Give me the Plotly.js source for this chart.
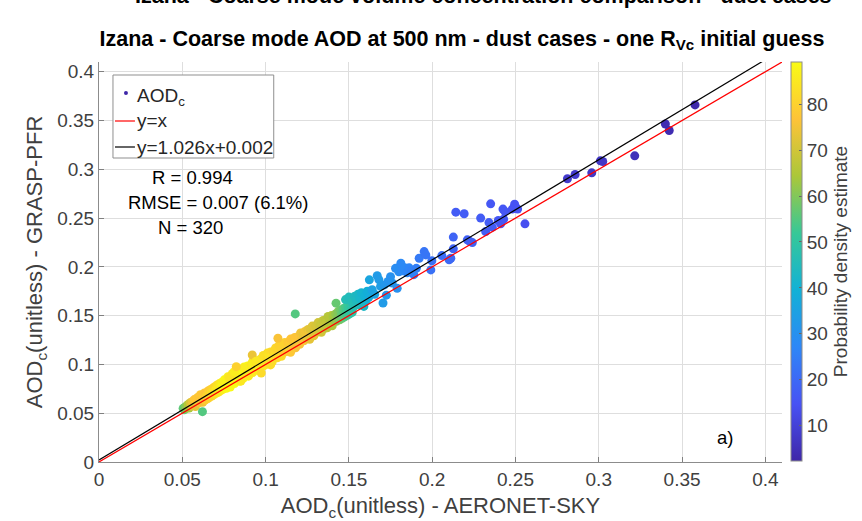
<!DOCTYPE html>
<html>
<head>
<meta charset="utf-8">
<script src="https://cdn.plot.ly/plotly-3.0.1.min.js"></script>
<style>html,body{margin:0;padding:0;background:#fff}#chart{width:862px;height:521px}</style>
</head>
<body>
<div id="chart"></div>
<script>
// ---------- data ----------
// group A : lowest AOD (x 0.050-0.062)
const xA = [0.0505,0.0512,0.0520,0.0528,0.0535,0.0541,0.0548,0.0553,0.0561,0.0566,0.0572,0.0579,0.0586,0.0591,0.0621];
const yA = [0.0550,0.0536,0.0568,0.0552,0.0589,0.0553,0.0607,0.0573,0.0620,0.0582,0.0640,0.0568,0.0628,0.0660,0.0516];
const dA = [56,58,60,62,66,64,70,72,74,75,77,73,78,78,55];
// group B : x 0.060-0.075
const xB = [0.0600,0.0603,0.0609,0.0612,0.0618,0.0623,0.0628,0.0633,0.0636,0.0641,0.0645,0.0651,0.0655,0.0659,0.0662,0.0668,0.0673,0.0677,0.0682,0.0686,0.0691,0.0695,0.0700,0.0705,0.0709,0.0713,0.0718,0.0722,0.0727,0.0731,0.0735,0.0741,0.0744,0.0749];
const yB = [0.0652,0.0608,0.0690,0.0640,0.0683,0.0612,0.0668,0.0708,0.0635,0.0705,0.0680,0.0648,0.0728,0.0702,0.0660,0.0741,0.0716,0.0676,0.0755,0.0731,0.0690,0.0772,0.0742,0.0706,0.0790,0.0757,0.0718,0.0801,0.0772,0.0733,0.0815,0.0784,0.0746,0.0829];
const dB = [77,76,78,78,77,75,79,78,78,77,80,79,78,81,80,79,82,81,80,83,82,81,85,84,83,85,85,84,86,85,86,88,87,86];
// group C : x 0.075-0.100 (highest density)
const xC = [0.0752,0.0757,0.0760,0.0765,0.0768,0.0773,0.0776,0.0781,0.0784,0.0788,0.0793,0.0796,0.0801,0.0804,0.0808,0.0813,0.0816,0.0821,0.0824,0.0829,0.0832,0.0837,0.0841,0.0845,0.0851,0.0854,0.0858,0.0863,0.0866,0.0871,0.0875,0.0879,0.0884,0.0889,0.0892,0.0897,0.0901,0.0905,0.0911,0.0914,0.0921,0.0924,0.0931,0.0934,0.0941,0.0944,0.0951,0.0955,0.0961,0.0964,0.0971,0.0975,0.0979,0.0986,0.0989,0.0996,0.0780,0.0800,0.0852,0.0898,0.0920,0.0812,0.0868,0.0942];
const yC = [0.0842,0.0777,0.0820,0.0755,0.0818,0.0873,0.0776,0.0821,0.0854,0.0769,0.0854,0.0827,0.0882,0.0815,0.0909,0.0804,0.0867,0.0892,0.0845,0.0831,0.0924,0.0869,0.0903,0.0827,0.0893,0.0936,0.0870,0.0915,0.0859,0.0974,0.0898,0.0952,0.0887,0.0942,0.0985,0.0880,0.0934,0.0969,0.0995,0.0928,0.1025,0.0918,0.0975,0.1008,0.0966,0.1039,0.0956,0.1010,0.0946,0.1029,0.1056,0.1010,0.0995,0.1092,0.0985,0.1052,0.0868,0.0905,0.0830,0.0888,0.1097,0.0925,0.0960,0.1032];
const dC = [88,88,87,89,88,87,89,88,87,89,89,87,89,89,87,89,89,88,89,89,87,89,89,87,89,89,87,89,88,87,89,88,86,88,88,86,88,87,85,87,86,85,87,86,84,86,85,84,86,85,84,85,84,83,85,84,84,84,85,85,74,86,86,85];
// group D : x 0.100-0.125
const xD = [0.1000,0.1005,0.1010,0.1015,0.1020,0.1025,0.1030,0.1035,0.1040,0.1045,0.1050,0.1055,0.1060,0.1065,0.1070,0.1075,0.1080,0.1085,0.1090,0.1095,0.1100,0.1105,0.1110,0.1115,0.1120,0.1125,0.1130,0.1135,0.1140,0.1145,0.1150,0.1155,0.1160,0.1165,0.1170,0.1175,0.1180,0.1185,0.1190,0.1195,0.1200,0.1205,0.1210,0.1215,0.1220,0.1225,0.1230,0.1235,0.1240,0.1245,0.1080,0.1178,0.1030,0.1150,0.0824,0.1074,0.0974];
const yD = [0.1076,0.1001,0.1116,0.1051,0.1087,0.1032,0.1127,0.1082,0.1027,0.1132,0.1077,0.1112,0.1168,0.1083,0.1068,0.1143,0.1168,0.1123,0.1168,0.1083,0.1199,0.1134,0.1159,0.1224,0.1129,0.1184,0.1149,0.1225,0.1140,0.1215,0.1260,0.1195,0.1170,0.1245,0.1200,0.1276,0.1171,0.1246,0.1281,0.1216,0.1271,0.1206,0.1322,0.1267,0.1252,0.1307,0.1242,0.1337,0.1282,0.1307,0.1192,0.1518,0.0995,0.1125,0.0977,0.1268,0.0912];
const dD = [83,84,83,82,84,83,82,84,83,81,83,82,81,83,82,80,82,81,80,82,81,79,81,80,79,80,79,78,80,79,77,79,78,77,78,77,76,78,77,76,77,76,75,76,75,74,76,75,74,75,80,55,82,78,80,76,82];
// group E : x 0.125-0.145
const xE = [0.1250,0.1255,0.1260,0.1265,0.1270,0.1275,0.1280,0.1285,0.1290,0.1295,0.1300,0.1305,0.1310,0.1315,0.1320,0.1325,0.1330,0.1335,0.1340,0.1345,0.1350,0.1355,0.1360,0.1365,0.1370,0.1375,0.1380,0.1385,0.1390,0.1395,0.1400,0.1405,0.1410,0.1415,0.1420,0.1425,0.1430,0.1435,0.1440,0.1423];
const yE = [0.1263,0.1358,0.1323,0.1258,0.1353,0.1308,0.1393,0.1328,0.1294,0.1369,0.1394,0.1329,0.1374,0.1429,0.1334,0.1380,0.1415,0.1330,0.1415,0.1450,0.1385,0.1370,0.1455,0.1431,0.1376,0.1491,0.1426,0.1461,0.1416,0.1501,0.1396,0.1492,0.1467,0.1452,0.1517,0.1442,0.1497,0.1542,0.1487,0.1628];
const dE = [74,73,75,73,72,74,72,71,73,72,71,72,71,70,71,70,69,70,69,68,69,68,67,68,67,66,67,66,65,66,65,64,64,63,62,62,61,60,60,57];
// group F : green, x 0.144-0.153
const xF = [0.1445,0.1450,0.1455,0.1460,0.1465,0.1470,0.1475,0.1480,0.1485,0.1490,0.1495,0.1500,0.1505,0.1510,0.1515,0.1520,0.1525,0.1530];
const yF = [0.1458,0.1555,0.1518,0.1474,0.1570,0.1533,0.1488,0.1585,0.1548,0.1503,0.1600,0.1563,0.1518,0.1615,0.1578,0.1533,0.1630,0.1594];
const dF = [59,58,57,57,56,55,55,54,53,53,52,51,51,50,49,49,48,47];
// group G : teal
const xG = [0.1480,0.1500,0.1520,0.1535,0.1545,0.1555,0.1560,0.1565,0.1575,0.1580,0.1590,0.1595,0.1605,0.1610,0.1620];
const yG = [0.1665,0.1690,0.1640,0.1700,0.1660,0.1720,0.1610,0.1680,0.1735,0.1640,0.1595,0.1700,0.1660,0.1750,0.1690];
const dG = [46,45,46,44,44,43,45,42,41,42,43,40,40,39,38];
// group H : light blue
const xH = [0.1623,0.1640,0.1655,0.1670,0.1680,0.1690,0.1705,0.1713,0.1725,0.1735,0.1750,0.1760,0.1780,0.1790,0.1800,0.1812,0.1820,0.1835,0.1850,0.1862,0.1875,0.1890,0.1905];
const yH = [0.1867,0.1765,0.1720,0.1910,0.1870,0.1800,0.1630,0.1815,0.1710,0.1850,0.1900,0.1835,0.1985,0.1780,0.1950,0.2038,0.1960,0.1990,0.1940,0.1990,0.1960,0.1920,0.1985];
const dH = [36,35,35,33,33,34,33,32,32,31,30,31,29,30,29,28,28,28,27,27,26,26,25];
// group I : blue
const xI = [0.1922,0.1952,0.1962,0.1992,0.1998,0.2058,0.2102,0.2112,0.2127,0.2127,0.2142,0.2192,0.2211,0.2225,0.2241,0.2291,0.2321,0.2341,0.2351,0.2361,0.2397,0.2411,0.2425,0.2429,0.2437,0.2481,0.2495,0.2500,0.2513,0.2557];
const yI = [0.2089,0.2157,0.2123,0.1969,0.2063,0.2116,0.2072,0.2089,0.2305,0.2185,0.2561,0.2544,0.2277,0.2262,0.2249,0.2500,0.2362,0.2454,0.2646,0.2407,0.2475,0.2441,0.2592,0.2489,0.2567,0.2592,0.2643,0.2610,0.2592,0.2441];
const dI = [24,23,23,22,22,21,20,20,19,19,17,17,18,18,18,17,17,17,16,17,16,16,16,16,16,15,15,15,15,14];
// group J : dark blue, highest AOD
const xJ = [0.2812,0.2858,0.2958,0.3010,0.3024,0.3216,0.3400,0.3423,0.3578];
const yJ = [0.2903,0.2947,0.2964,0.3087,0.3080,0.3138,0.3464,0.3398,0.3660];
const dJ = [8,8,7,7,7,5,4,4,3];

const fitSlope = 1.026, fitIntercept = 0.002;
const statsR = '0.994', statsRMSE = '0.007 (6.1%)', statsN = '320';
const cbTicks = [10,20,30,40,50,60,70,80];
const densRange = [2.3, 89.2];
const axisRange = [0, 0.41];

const xs = [].concat(xA,xB,xC,xD,xE,xF,xG,xH,xI,xJ);
const ys = [].concat(yA,yB,yC,yD,yE,yF,yG,yH,yI,yJ);
const ds = [].concat(dA,dB,dC,dD,dE,dF,dG,dH,dI,dJ);

const parula = [
  [0/7,'rgb(62,38,168)'],[1/7,'rgb(72,82,244)'],[2/7,'rgb(46,135,247)'],[3/7,'rgb(18,177,214)'],
  [4/7,'rgb(55,200,151)'],[5/7,'rgb(171,199,57)'],[6/7,'rgb(254,195,56)'],[7/7,'rgb(249,251,21)']
];

const FONT = 'Liberation Sans, Arial, Helvetica, sans-serif';
const L = 99, T = 62, W = 684, H = 400;
const px = v => (v - L) / W;
const py = v => (T + H - v) / H;

const lineX = axisRange.slice();
const traces = [
  {type:'scatter', mode:'markers', x:xs, y:ys, showlegend:false, name:'AOD_c',
   marker:{size:9, color:ds, colorscale:parula, cmin:densRange[0], cmax:densRange[1], line:{width:0},
     colorbar:{thickness:11, thicknessmode:'pixels', len:399, lenmode:'pixels', x:px(791), xanchor:'left',
       y:1, yanchor:'top', ypad:0, xpad:0, outlinecolor:'#8c8c8c', outlinewidth:1,
       tickmode:'array', tickvals:cbTicks, ticks:'inside', ticklen:3, tickcolor:'#666',
       tickfont:{size:19, color:'#404040', family:FONT},
       title:{text:'Probability density estimate', side:'right', font:{size:19, color:'#404040', family:FONT}}}}},
  {type:'scatter', mode:'lines', x:lineX, y:lineX.map(v=>v), showlegend:false, line:{color:'#ff0000', width:1.2}},
  {type:'scatter', mode:'lines', x:lineX, y:lineX.map(v=>fitSlope*v+fitIntercept), showlegend:false, line:{color:'#000000', width:1.2}}
];

const axisCommon = {range:axisRange, tick0:0, dtick:0.05, ticks:'inside', ticklen:5, tickcolor:'#808080',
  showline:true, linecolor:'#8c8c8c', linewidth:1, showgrid:true, gridcolor:'#dedede', gridwidth:1,
  zeroline:false, tickfont:{size:19, color:'#404040', family:FONT}, fixedrange:true};

const layout = {
  width:862, height:521, margin:{l:L, r:862-L-W, t:T, b:521-T-H},
  paper_bgcolor:'#ffffff', plot_bgcolor:'#ffffff', showlegend:false,
  font:{family:FONT, color:'#262626'},
  title:{text:'Izana - Coarse mode AOD at 500 nm - dust cases - one R<sub>Vc</sub> initial guess',
    font:{size:21.5, weight:'bold', color:'#000', family:FONT},
    xref:'container', x:462/862, xanchor:'center', yref:'container', y:(521-38)/521, yanchor:'middle'},
  xaxis:Object.assign({}, axisCommon, {title:{text:'AOD<sub>c</sub>(unitless) - AERONET-SKY', font:{size:22, color:'#404040', family:FONT}, standoff:15}}),
  yaxis:Object.assign({}, axisCommon, {title:{text:'AOD<sub>c</sub>(unitless) - GRASP-PFR', font:{size:22, color:'#404040', family:FONT}, standoff:8}}),
  shapes:[
    {type:'rect', xref:'paper', yref:'paper', x0:px(113), x1:px(274), y0:py(158), y1:py(75), line:{color:'#8f8f8f', width:1}, fillcolor:'#ffffff', layer:'above'},
    {type:'circle', xref:'paper', yref:'paper', x0:px(124), x1:px(128), y0:py(95), y1:py(91), line:{width:0}, fillcolor:'rgb(62,38,168)', layer:'above'},
    {type:'line', xref:'paper', yref:'paper', x0:px(115), x1:px(135), y0:py(121), y1:py(121), line:{color:'#ff0000', width:1.2}, layer:'above'},
    {type:'line', xref:'paper', yref:'paper', x0:px(115), x1:px(135), y0:py(147), y1:py(147), line:{color:'#000000', width:1.2}, layer:'above'}
  ],
  annotations:[
    {text:'Izana - Coarse mode volume concentration comparison - dust cases', xref:'paper', yref:'paper',
     x:px(484), y:py(10), xanchor:'center', yanchor:'bottom', showarrow:false,
     font:{size:21.5, weight:'bold', color:'#000', family:FONT}},
    {text:'AOD<sub>c</sub>', xref:'paper', yref:'paper', x:px(135), y:py(97), xanchor:'left', yanchor:'middle', showarrow:false, font:{size:19, color:'#262626'}},
    {text:'y=x', xref:'paper', yref:'paper', x:px(135), y:py(121), xanchor:'left', yanchor:'middle', showarrow:false, font:{size:19, color:'#262626'}},
    {text:'y='+fitSlope+'x+'+fitIntercept.toFixed(3), xref:'paper', yref:'paper', x:px(135), y:py(147), xanchor:'left', yanchor:'middle', showarrow:false, font:{size:19, color:'#262626'}},
    {text:'R = '+statsR, xref:'paper', yref:'paper', x:px(150), y:py(177), xanchor:'left', yanchor:'middle', showarrow:false, font:{size:18.5, color:'#000'}},
    {text:'RMSE = '+statsRMSE, xref:'paper', yref:'paper', x:px(126), y:py(202), xanchor:'left', yanchor:'middle', showarrow:false, font:{size:18.5, color:'#000'}},
    {text:'N = '+statsN, xref:'paper', yref:'paper', x:px(156), y:py(227), xanchor:'left', yanchor:'middle', showarrow:false, font:{size:18.5, color:'#000'}},
    {text:'a)', xref:'paper', yref:'paper', x:px(716), y:py(437), xanchor:'left', yanchor:'middle', showarrow:false, font:{size:18.5, color:'#000'}}
  ]
};

Plotly.newPlot('chart', traces, layout, {displayModeBar:false, staticPlot:true});
</script>
</body>
</html>
